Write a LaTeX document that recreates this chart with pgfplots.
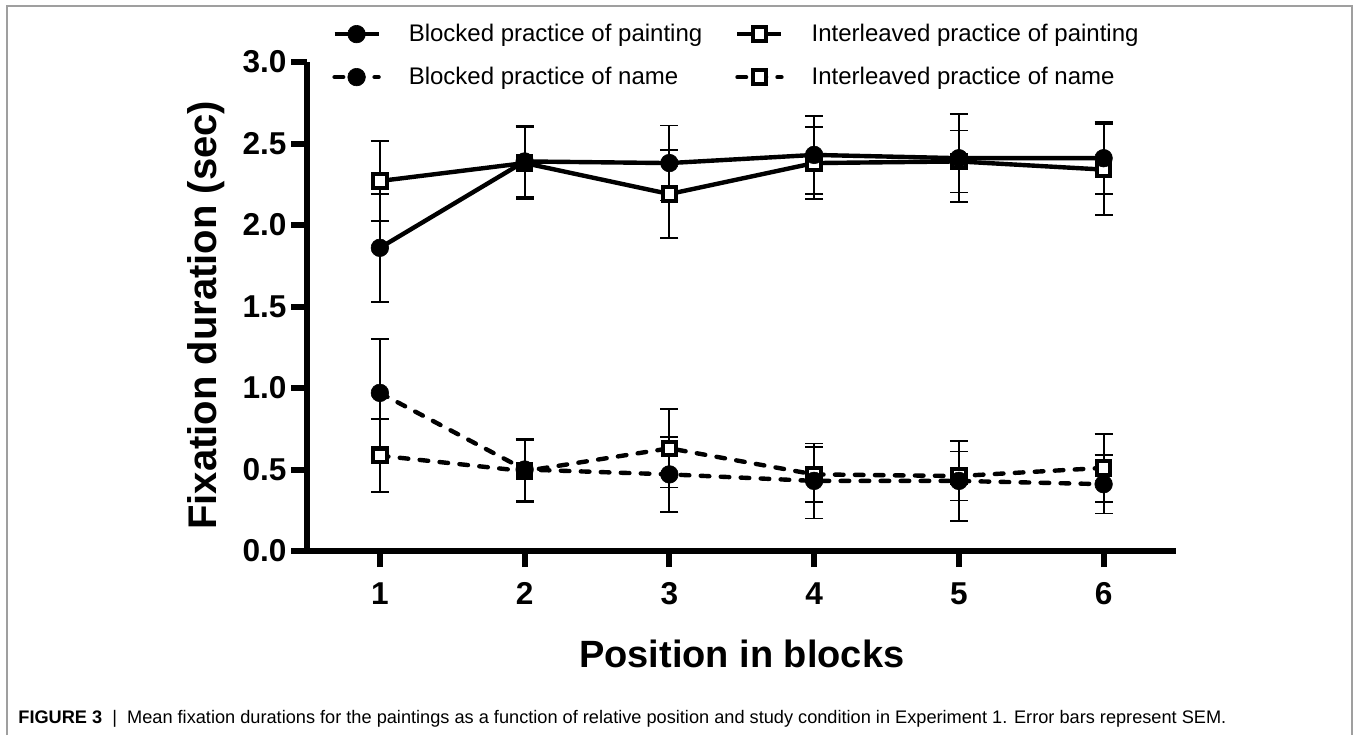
\documentclass[border=0pt]{standalone}
\usepackage{pgfplots}
\usepackage{pgfplotstable}
\pgfplotsset{compat=1.18}
\usepackage{fontspec}
\setmainfont{Liberation Sans}

\pgfplotstableread{
x y e
1 1.86 0.33
2 2.39 0.22
3 2.38 0.23
4 2.43 0.24
5 2.41 0.27
6 2.41 0.22
}\blockedpainting
\pgfplotstableread{
x y e
1 2.27 0.245
2 2.38 0.22
3 2.19 0.27
4 2.38 0.22
5 2.39 0.19
6 2.34 0.28
}\interpainting
\pgfplotstableread{
x y e
1 0.97 0.33
2 0.50 0.19
3 0.47 0.23
4 0.43 0.23
5 0.43 0.245
6 0.41 0.18
}\blockedname
\pgfplotstableread{
x y e
1 0.585 0.225
2 0.49 0.19
3 0.63 0.24
4 0.47 0.17
5 0.46 0.15
6 0.51 0.21
}\intername

\pgfplotsset{
  bp/.style={black, line width=2.2pt, mark=*, mark size=4.4pt, mark options={solid, line width=0.3pt}},
  ip/.style={black, line width=2.2pt, mark=square*, mark size=3.35pt, mark options={solid, fill=white, line width=2pt}},
  dsh/.style={dash pattern=on 4.3pt off 5.7pt, line cap=round},
  eb/.style={error bars/y dir=both, error bars/y explicit,
     error bars/error bar style={line width=0.9pt, black, solid, line cap=butt},
     error bars/error mark options={rotate=90, mark size=4.5pt, line width=0.9pt, black, solid}},
}

\begin{document}
\begin{tikzpicture}[x=1pt,y=1pt]
\useasboundingbox (-153.75,-92) rectangle (524.25,275.5);
\draw[gray!75, line width=0.8pt] (-150.25,-92) -- (-150.25,272.5) -- (522.25,272.5) -- (522.25,-92);
\begin{axis}[
  scale only axis, width=434.25pt, height=244.5pt,
  xmin=0.5, xmax=6.5, ymin=0, ymax=3,
  axis x line*=bottom, axis y line*=left,
  axis line style={line width=3pt, -},
  every tick/.style={line width=3pt, black},
  major tick length=8pt,
  tick align=outside,
  xtick={1,2,3,4,5,6}, ytick={0,0.5,1,1.5,2,2.5,3},
  /pgf/number format/assume math mode=true,
  ticklabel style={font=\fontsize{15.8}{15.8}\selectfont\bfseries},
  xticklabel shift=4pt,
  xticklabel style={text height=11.4pt, text depth=0pt},
  yticklabel style={xshift=1pt, /pgf/number format/.cd, fixed, fixed zerofill, precision=1},
  xlabel={Position in blocks},
  ylabel={Fixation duration (sec)},
  xlabel style={font=\fontsize{19}{19}\selectfont\bfseries, at={(axis description cs:0.5,-0.2106)}, anchor=center},
  ylabel style={font=\fontsize{20}{20}\selectfont\bfseries, at={(axis description cs:-0.1169,0.482)}, anchor=center},
  legend style={at={(axis description cs:0.0282,1.0787)}, anchor=north west, draw=none, fill=none,
     font=\fontsize{12}{13}\selectfont, row sep=11.3pt, inner sep=0pt,
     nodes={inner sep=0pt},
     /tikz/every odd column/.append style={column sep=14pt},
     /tikz/every even column/.append style={column sep=16.5pt}},
  legend cell align=left,
  legend columns=2,
  legend image code/.code={\draw[mark repeat=2,mark phase=2,#1] plot coordinates {(0pt,0pt) (11pt,0pt) (22pt,0pt)};},
  clip=false,
]
\addplot[ip, eb, forget plot] table[x=x, y=y, y error=e] {\interpainting};
\addplot[ip, dsh, eb, forget plot] table[x=x, y=y, y error=e] {\intername};
\addplot[bp, eb, forget plot] table[x=x, y=y, y error=e] {\blockedpainting};
\addplot[bp, dsh, eb, forget plot] table[x=x, y=y, y error=e] {\blockedname};

\addlegendimage{bp}
\addlegendentry{Blocked practice of painting}
\addlegendimage{ip}
\addlegendentry{Interleaved practice of painting}
\addlegendimage{bp, dsh}
\addlegendentry{Blocked practice of name}
\addlegendimage{ip, dsh}
\addlegendentry{Interleaved practice of name}
\end{axis}
\node[anchor=base west, inner sep=0pt] at (-144.75,-86) {\resizebox{604pt}{!}{\fontsize{8.2}{9}\selectfont\textbf{FIGURE 3}~~|~~Mean fixation durations for the paintings as a function of relative position and study condition in Experiment 1. Error bars represent SEM.}};
\end{tikzpicture}
\end{document}
